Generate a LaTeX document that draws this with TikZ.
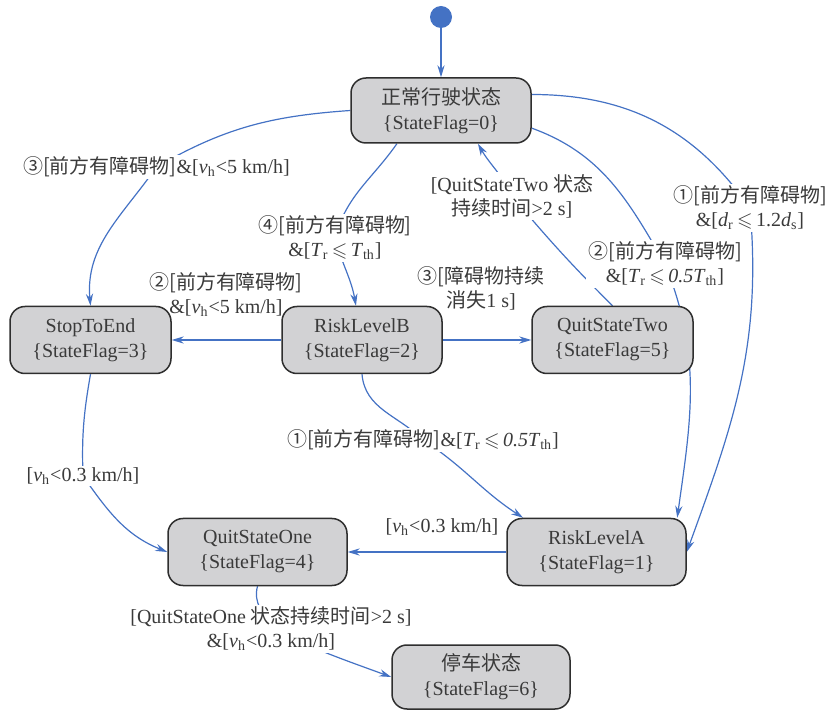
\documentclass[tikz,border=0pt]{standalone}
\usepackage{amssymb}
\usepackage{fontspec}
\setmainfont{Liberation Serif}
\newfontfamily\cjk{Noto Sans CJK SC}
\usetikzlibrary{arrows.meta,backgrounds}
\definecolor{edgeblue}{HTML}{4472C4}
\definecolor{boxfill}{HTML}{D2D2D4}
\definecolor{boxline}{HTML}{2E2E2E}
\definecolor{txtgray}{HTML}{3A3A3A}
\newcommand{\zh}[1]{{\cjk #1}}
\newcommand{\vh}{\textit{v}\textsubscript{h}}
\newcommand{\Tr}{\textit{T}\textsubscript{r}}
\newcommand{\Tth}{\textit{T}\textsubscript{th}}
\newcommand{\lsl}{\,$\leqslant$\,}
\tikzset{stbox/.style={draw=boxline, line width=0.75pt, fill=boxfill, rounded corners=7.5pt, minimum height=33.5pt, align=center, text=txtgray, font=\fontsize{10}{12.5}\selectfont},
%labels sit on top of the links
lbl/.style={fill=white, inner sep=1pt, align=center, text=txtgray, font=\fontsize{10}{12}\selectfont},
link/.style={edgeblue, line width=0.6pt, -{Stealth[length=6pt,width=3.6pt]}}}

\begin{document}
\begin{tikzpicture}[x=0.5pt,y=0.5pt]
		\useasboundingbox (0,0) rectangle (831,-711);

		\node[circle, fill=edgeblue, minimum size=11pt, inner sep=0pt] (start) at (441,-17) {};
		\node[stbox, minimum width=90pt, minimum height=32.5pt] (n0) at (441,-110.5) {\zh{正常行驶状态}\\\{StateFlag=0\}};
		\node[stbox, minimum width=80.5pt] (stop) at (90.5,-340) {StopToEnd\\\{StateFlag=3\}};
		\node[stbox, minimum width=80pt] (rb) at (362,-340) {RiskLevelB\\\{StateFlag=2\}};
		\node[stbox, minimum width=80.5pt] (q2) at (612.5,-340) {QuitStateTwo\\\{StateFlag=5\}};
		\node[stbox, minimum width=89.5pt] (ra) at (596.5,-552) {RiskLevelA\\\{StateFlag=1\}};
		\node[stbox, minimum width=89.5pt] (q1) at (257.5,-552) {QuitStateOne\\\{StateFlag=4\}};
		\node[stbox, minimum width=89pt, minimum height=32pt] (park) at (481,-677) {\zh{停车状态}\\\{StateFlag=6\}};

		\coordinate (cA) at (156.5,-167);
		\coordinate (cB) at (335,-238);
		\coordinate (cC) at (512,-196);
		\coordinate (cD) at (750,-208);
		\coordinate (cE) at (665,-264);
		\coordinate (cF) at (481,-288);
		\coordinate (cG) at (226,-295);
		\coordinate (cH) at (423,-440);
		\coordinate (cI) at (83,-476);
		\coordinate (cJ) at (442,-527);
		\coordinate (cK) at (271,-629);

		\begin{scope}[on background layer]
		\draw[link] (start) -- (n0);
		\draw[link] (n0.west) to[out=184,in=30] (cA) to[out=235,in=95] (stop.north);
		\draw[link] (n0.217) to[out=235,in=75] (cB) to[out=-75,in=100] (rb.100);
		\draw[link] (q2.north) to[out=135,in=-50] (cC) to[out=115,in=-60] (n0.-42);
		\draw[link] (n0.10) to[out=0,in=125] (cD) to[out=-85,in=70] (ra.east);
		\draw[link] (n0.-11) to[out=-20,in=120] (cE) to[out=-68,in=82] (ra.23);
		\draw[link] (rb) -- (stop);
		\draw[link] (rb) -- (q2);
		\draw[link] (rb.south) to[out=-85,in=135] (cH) to[out=-33,in=147] (ra.155);
		\draw[link] (stop.south) to[out=-100,in=92] (cI) to[out=-55,in=158] (q1.west);
		\draw[link] (ra) -- (q1);
		\draw[link] (q1.south) to[out=-105,in=115] (cK) to[out=-25,in=160] (park.west);

		\node[lbl] (lA) at (cA) {\zh{③[前方有障碍物]}\&[\vh<5 km/h]};
		\node[lbl] (lB) at (cB) {\zh{④[前方有障碍物]}\\\&[\Tr\lsl\Tth]};
		\node[lbl] (lC) at (cC) {[QuitStateTwo \zh{状态}\\\zh{持续时间}>2 s]};
		\node[lbl] (lD) at (cD) {\zh{①[前方有障碍物]}\\\&[\textit{d}\textsubscript{r}\lsl1.2\textit{d}\textsubscript{s}]};
		\node[lbl] (lE) at (cE) {\zh{②[前方有障碍物]}\\\&[\Tr\lsl\textit{0.5}\Tth]};
		\node[lbl] (lF) at (cF) {\zh{③[障碍物持续}\\\zh{消失}1 s]};
		\node[lbl] (lG) at (cG) {\zh{②[前方有障碍物]}\\\&[\vh<5 km/h]};
		\node[lbl] (lH) at (cH) {\zh{①[前方有障碍物]}\&[\Tr\lsl\textit{0.5}\Tth]};
		\node[lbl] (lI) at (cI) {[\vh<0.3 km/h]};
		\node[lbl] (lJ) at (cJ) {[\vh<0.3 km/h]};
		\node[lbl] (lK) at (cK) {[QuitStateOne \zh{状态持续时间}>2 s]\\\&[\vh<0.3 km/h]};
		\end{scope}

	\end{tikzpicture}
\end{document}
